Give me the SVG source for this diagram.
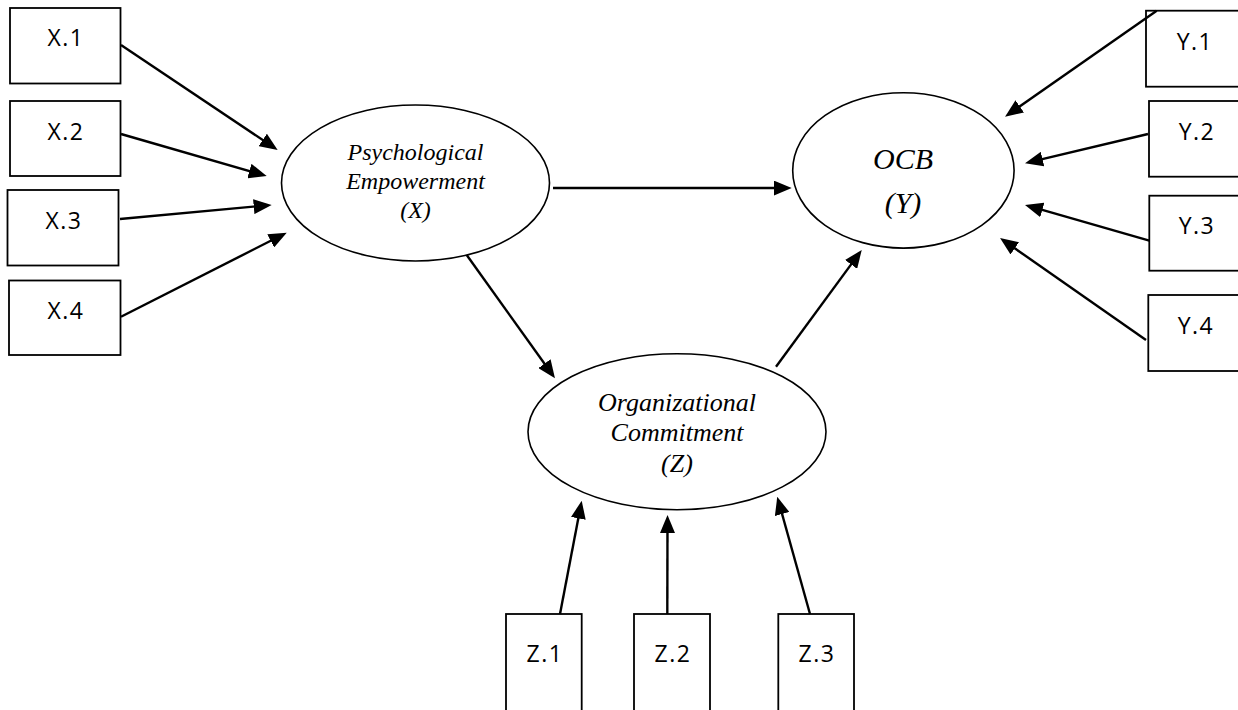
<svg xmlns="http://www.w3.org/2000/svg" width="1238" height="710" viewBox="0 0 1238 710">
<style>
.box{fill:#fff;stroke:#000;stroke-width:1.8}
.ell{fill:#fff;stroke:#000;stroke-width:1.6}
.bt{font-family:"Open Sans","Liberation Sans",sans-serif;font-size:23px;letter-spacing:1.5px;text-anchor:middle;fill:#000}
.et{font-family:"Liberation Serif","DejaVu Serif","Times New Roman",serif;font-style:italic;text-anchor:middle;fill:#000}
.conn line{stroke:#000;stroke-width:2.4;marker-end:url(#ah)}
</style>
<defs>
<marker id="ah" markerUnits="userSpaceOnUse" markerWidth="18" markerHeight="15" refX="10" refY="7.5" orient="auto">
<path d="M0,0 L18,7.5 L0,15 z" fill="#000"/>
</marker>
</defs>
<rect width="1238" height="710" fill="#fff"/>
<g id="X1"><rect class="box" x="10" y="8" width="110.5" height="75.5"/><text class="bt" x="66" y="46">X.1</text></g>
<g id="X2"><rect class="box" x="10" y="101" width="110.5" height="75"/><text class="bt" x="66" y="140">X.2</text></g>
<g id="X3"><rect class="box" x="7.5" y="190" width="111" height="75.5"/><text class="bt" x="64" y="229">X.3</text></g>
<g id="X4"><rect class="box" x="9" y="280.5" width="111.5" height="74.5"/><text class="bt" x="66" y="319">X.4</text></g>
<g id="Y1"><rect class="box" x="1146" y="10.7" width="100" height="76"/><text class="bt" x="1195" y="50">Y.1</text></g>
<g id="Y2"><rect class="box" x="1149" y="101" width="100" height="75.7"/><text class="bt" x="1197" y="140">Y.2</text></g>
<g id="Y3"><rect class="box" x="1149.3" y="195.7" width="100" height="75"/><text class="bt" x="1197" y="234">Y.3</text></g>
<g id="Y4"><rect class="box" x="1148.3" y="295" width="100" height="76"/><text class="bt" x="1196" y="334">Y.4</text></g>
<g id="Z1"><rect class="box" x="506" y="614" width="75.7" height="110"/><text class="bt" x="545" y="662">Z.1</text></g>
<g id="Z2"><rect class="box" x="634" y="614" width="76" height="110"/><text class="bt" x="673" y="662">Z.2</text></g>
<g id="Z3"><rect class="box" x="778.3" y="614" width="75.7" height="110"/><text class="bt" x="817" y="662">Z.3</text></g>
<g id="PE"><ellipse class="ell" cx="415.5" cy="183" rx="134" ry="78"/>
<text class="et" font-size="24" x="415.5" y="160">Psychological</text>
<text class="et" font-size="24" x="415.5" y="189">Empowerment</text>
<text class="et" font-size="24" x="415.5" y="218">(X)</text></g>
<g id="OCB"><ellipse class="ell" cx="903.4" cy="170.4" rx="110.7" ry="77.7"/>
<text class="et" font-size="30" x="903" y="169">OCB</text>
<text class="et" font-size="30" x="903" y="213">(Y)</text></g>
<g id="OC"><ellipse class="ell" cx="677" cy="431.7" rx="149" ry="78"/>
<text class="et" font-size="26" x="677" y="411">Organizational</text>
<text class="et" font-size="26" x="677" y="441">Commitment</text>
<text class="et" font-size="26" x="677" y="472">(Z)</text></g>
<g id="connectors" class="conn">
<line x1="121" y1="45" x2="271" y2="145.5"/>
<line x1="121" y1="134" x2="259" y2="173.8"/>
<line x1="120" y1="219" x2="263.7" y2="205.7"/>
<line x1="121" y1="316.7" x2="279.6" y2="236.3"/>
<line x1="553" y1="188" x2="783.7" y2="188"/>
<line x1="466.7" y1="255" x2="550.3" y2="371.8"/>
<line x1="776" y1="366.7" x2="857" y2="256.4"/>
<line x1="1156.7" y1="10.7" x2="1011.6" y2="112.1"/>
<line x1="1148" y1="134" x2="1032.8" y2="161.4"/>
<line x1="1149.3" y1="240.7" x2="1032.7" y2="207.2"/>
<line x1="1146" y1="340" x2="1006.6" y2="242.6"/>
<line x1="560" y1="614" x2="580.2" y2="508.6"/>
<line x1="667.3" y1="614" x2="667.5" y2="523"/>
<line x1="810" y1="614" x2="779.4" y2="504.4"/>
</g>
</svg>
